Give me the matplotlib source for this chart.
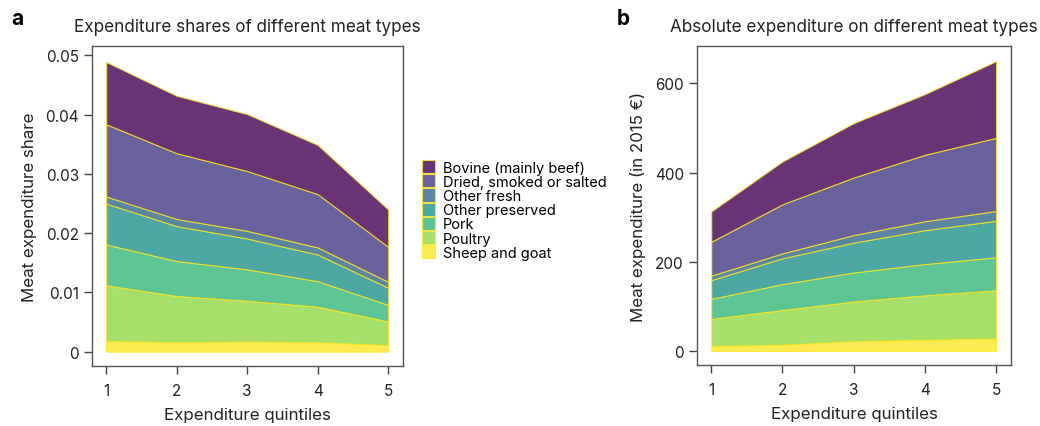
import matplotlib
matplotlib.use('Agg')
import matplotlib.pyplot as plt
from matplotlib.ticker import FuncFormatter

plt.rcParams['font.family'] = ['Inter', 'DejaVu Sans']

quintiles = [1, 2, 3, 4, 5]
meat_types = ['Sheep and goat', 'Poultry', 'Pork', 'Other preserved',
              'Other fresh', 'Dried, smoked or salted', 'Bovine (mainly beef)']

# expenditure shares (panel a), bottom to top
share_sheep = [0.0018, 0.0016, 0.0017, 0.0016, 0.0011]
share_poultry = [0.0094, 0.0078, 0.0069, 0.0060, 0.0040]
share_pork = [0.0069, 0.0059, 0.0053, 0.0043, 0.0028]
share_other_preserved = [0.0069, 0.0059, 0.0052, 0.0045, 0.0029]
share_other_fresh = [0.0012, 0.0012, 0.0013, 0.0012, 0.0010]
share_dried = [0.0122, 0.0111, 0.0101, 0.0090, 0.0059]
share_bovine = [0.0105, 0.0097, 0.0096, 0.0083, 0.0063]

# absolute expenditure in 2015 EUR (panel b), bottom to top
abs_sheep = [11, 14, 22, 25, 28]
abs_poultry = [61, 78, 89, 100, 108]
abs_pork = [45, 58, 65, 70, 74]
abs_other_preserved = [42, 58, 67, 76, 82]
abs_other_fresh = [10, 11, 17, 20, 22]
abs_dried = [76, 110, 129, 149, 164]
abs_bovine = [68, 96, 122, 136, 172]

shares = [share_sheep, share_poultry, share_pork, share_other_preserved,
          share_other_fresh, share_dried, share_bovine]
absolute = [abs_sheep, abs_poultry, abs_pork, abs_other_preserved,
            abs_other_fresh, abs_dried, abs_bovine]

cmap = plt.get_cmap('viridis')
colors = [cmap(1 - i / 6) for i in range(7)]
edge = '#fde725'
text_col = '#222222'


def style_axes(ax):
    for s in ax.spines.values():
        s.set_color('#555555')
        s.set_linewidth(1.0)
    ax.tick_params(colors='#444444', labelcolor=text_col, labelsize=11, length=6, width=1)
    ax.tick_params(axis='x', pad=6)
    ax.set_xticks(quintiles)
    ax.set_xlim(0.8, 5.21)
    ax.set_xlabel('Expenditure quintiles', fontsize=12.2, color=text_col, labelpad=7)


fig = plt.figure(figsize=(10.4, 4.27), dpi=100)
ax1 = fig.add_axes([0.0885, 0.1405, 0.299, 0.7494])
ax2 = fig.add_axes([0.6702, 0.1429, 0.3019, 0.747])

polys = ax1.stackplot(quintiles, *shares, colors=colors, alpha=0.8,
                      edgecolor=edge, linewidth=0.8, labels=meat_types)
ax1.set_ylim(-0.00242, 0.0516)
ax1.set_yticks([0, 0.01, 0.02, 0.03, 0.04, 0.05])
ax1.yaxis.set_major_formatter(FuncFormatter(lambda v, p: '0' if v == 0 else f'{v:.2f}'))
ax1.set_ylabel('Meat expenditure share', fontsize=12.2, color=text_col, labelpad=6)
ax1.set_title('Expenditure shares of different meat types', fontsize=12.3, color=text_col, pad=11)
style_axes(ax1)

ax2.stackplot(quintiles, *absolute, colors=colors, alpha=0.8,
              edgecolor=edge, linewidth=0.8)
ax2.set_ylim(-31.4, 684)
ax2.set_yticks([0, 200, 400, 600])
ax2.set_ylabel('Meat expenditure (in 2015 €)', fontsize=12.2, color=text_col, labelpad=6)
ax2.set_title('Absolute expenditure on different meat types', fontsize=12.3, color=text_col, pad=11)
style_axes(ax2)

handles = polys[::-1]
labels = meat_types[::-1]
fig.legend(handles, labels, loc='upper left', bbox_to_anchor=(0.399, 0.64),
           frameon=False, fontsize=10.5, labelspacing=-0.02, handlelength=0.9,
           handleheight=1.0, handletextpad=0.5, borderpad=0)

fig.text(0.011, 0.955, 'a', fontsize=15, fontweight='bold', va='center', ha='left')
fig.text(0.593, 0.955, 'b', fontsize=15, fontweight='bold', va='center', ha='left')

fig.savefig('out.png', dpi=100)
